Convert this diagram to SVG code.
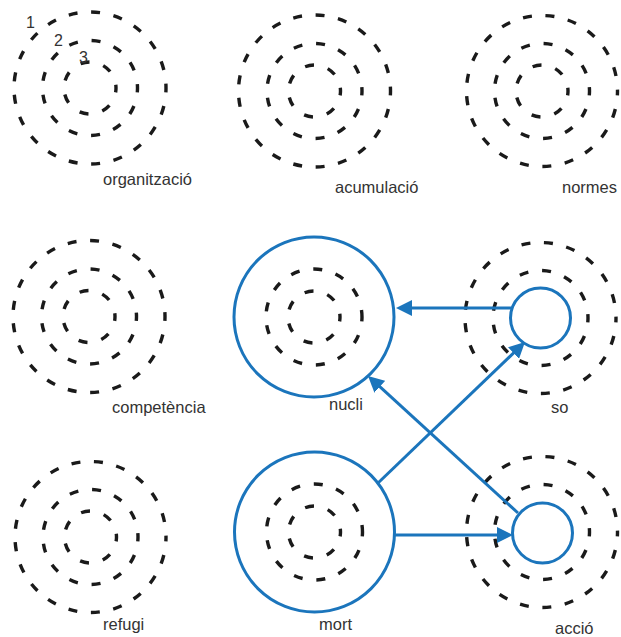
<svg xmlns="http://www.w3.org/2000/svg" width="621" height="637" viewBox="0 0 621 637">
<style>
.d1,.d2,.d3{fill:none;stroke:#1a1a1a;stroke-width:3.4;stroke-dashoffset:4.5}
.d1{stroke-dasharray:9 13.7}
.d2{stroke-dasharray:9 13.96}
.d3{stroke-dasharray:9 14.34}
.b{fill:none;stroke:#1b75bc;stroke-width:3}
.c{fill:none;stroke:#1b75bc;stroke-width:3}
text{font-family:"Liberation Sans",Arial,sans-serif;font-size:16.5px;fill:#333}
.n{font-size:16px}
</style>
<defs>
<marker id="ah" markerUnits="userSpaceOnUse" markerWidth="16" markerHeight="16" refX="6" refY="8" orient="auto">
<path d="M0,0 L16,8 L0,16 z" fill="#1b75bc"/>
</marker>
</defs>
<rect width="621" height="637" fill="#fff"/>
<g id="organitzacio">
<circle class="d1" cx="90" cy="88" r="76"/><circle class="d2" cx="90" cy="88" r="47.5"/><circle class="d3" cx="90" cy="88" r="26"/>
<text class="n" x="26" y="28">1</text><text class="n" x="54" y="46">2</text><text class="n" x="79" y="63">3</text>
<text x="103" y="185">organització</text>
</g>
<g id="acumulacio">
<circle class="d1" cx="314.5" cy="91" r="76"/><circle class="d2" cx="314.5" cy="91" r="47.5"/><circle class="d3" cx="314.5" cy="91" r="26"/>
<text x="335" y="193">acumulació</text>
</g>
<g id="normes">
<circle class="d1" cx="542" cy="91" r="75.5"/><circle class="d2" cx="542" cy="91" r="47.5"/><circle class="d3" cx="542" cy="91" r="26"/>
<text x="562" y="193">normes</text>
</g>
<g id="competencia">
<circle class="d1" cx="89" cy="316.5" r="76"/><circle class="d2" cx="89" cy="316.5" r="47.5"/><circle class="d3" cx="89" cy="316.5" r="26"/>
<text x="112" y="413">competència</text>
</g>
<g id="nucli">
<circle class="b" cx="314" cy="317" r="80"/><circle class="d2" cx="314" cy="317" r="48"/><circle class="d3" cx="314" cy="317" r="26"/>
<text x="329" y="410">nucli</text>
</g>
<g id="so">
<circle class="d1" cx="540.5" cy="318" r="75.5"/><circle class="d2" cx="540.5" cy="318" r="47.5"/><circle class="b" cx="540.5" cy="318" r="30"/>
<text x="551" y="413">so</text>
</g>
<g id="refugi">
<circle class="d1" cx="90.5" cy="537" r="75.5"/><circle class="d2" cx="90.5" cy="537" r="47.5"/><circle class="d3" cx="90.5" cy="537" r="26"/>
<text x="103" y="630">refugi</text>
</g>
<g id="mort">
<circle class="b" cx="314.5" cy="532" r="80"/><circle class="d2" cx="314.5" cy="532" r="48"/><circle class="d3" cx="314.5" cy="532" r="26"/>
<text x="319" y="630">mort</text>
</g>
<g id="accio">
<circle class="d1" cx="542" cy="532" r="75.5"/><circle class="d2" cx="542" cy="532" r="47.5"/><circle class="b" cx="542.5" cy="533" r="30"/>
<text x="555" y="634">acció</text>
</g>
<g id="connectors">
<line class="c" x1="511" y1="308" x2="406" y2="308" marker-end="url(#ah)"/>
<line class="c" x1="378" y1="483" x2="517.8" y2="348.9" marker-end="url(#ah)"/>
<line class="c" x1="518" y1="513" x2="375.4" y2="382.7" marker-end="url(#ah)"/>
<line class="c" x1="394" y1="535" x2="503" y2="535" marker-end="url(#ah)"/>
</g>
</svg>
